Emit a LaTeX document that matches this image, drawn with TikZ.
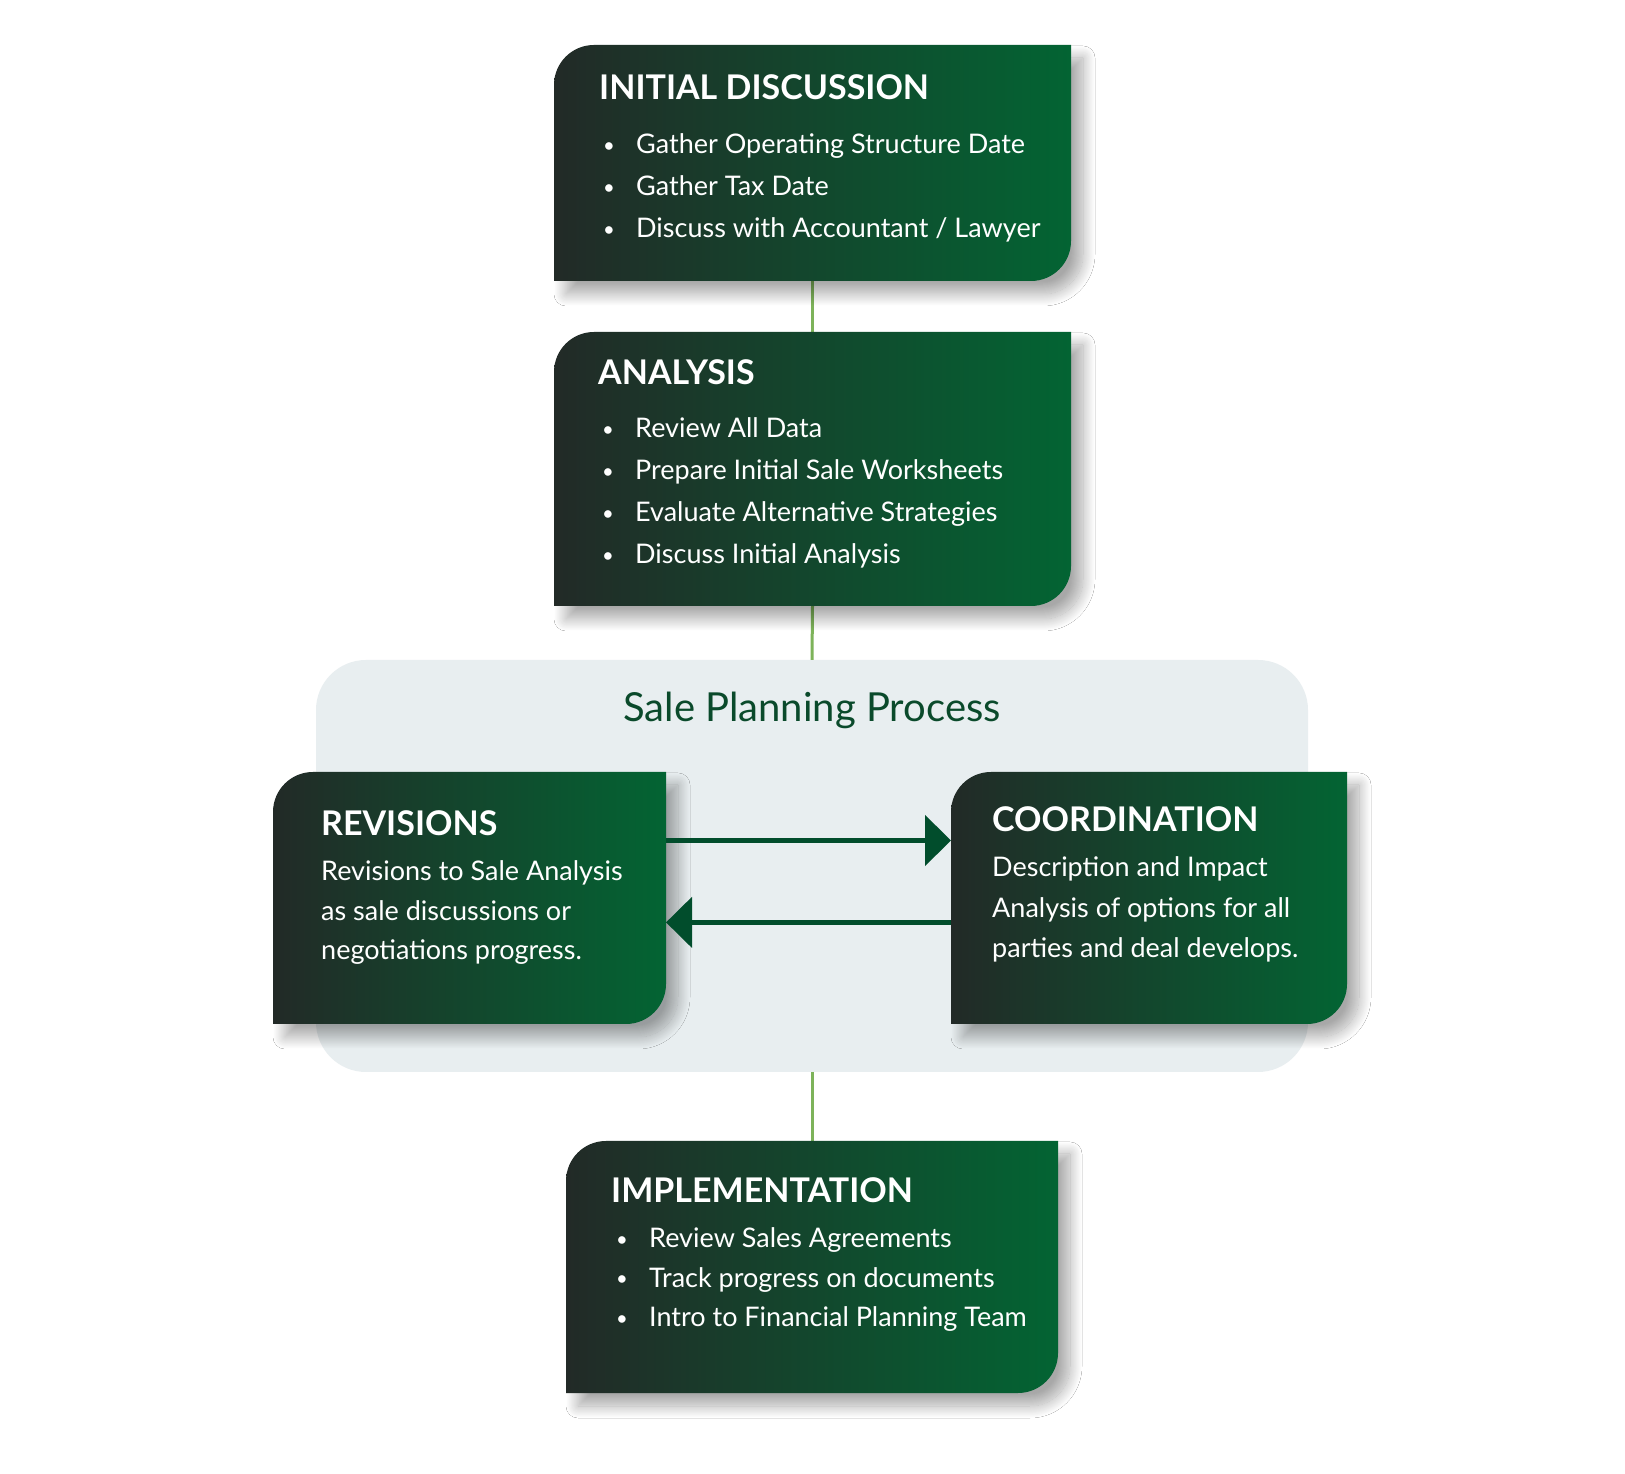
\documentclass[tikz,border=0pt]{standalone}
\usepackage{fontspec}
\setmainfont{Lato}
\usetikzlibrary{arrows.meta,calc,positioning,shadows.blur}

\definecolor{stagedark}{HTML}{222A27}
\definecolor{stagegreen}{HTML}{036433}
\definecolor{panelgray}{HTML}{E8EEF0}
\definecolor{linkgreen}{HTML}{7DB35A}
\definecolor{arrowgreen}{HTML}{014D2C}
\definecolor{titlegreen}{HTML}{0A4A2B}

\tikzset{
  stagebox/.style={inner sep=0pt,outer sep=0pt},
  stagefill/.style={left color=stagedark,right color=stagegreen,
    blur shadow={shadow xshift=12pt,shadow yshift=-13pt,shadow blur radius=12pt,
      shadow blur steps=24,shadow opacity=34}},
  panelbox/.style={fill=panelgray,rounded corners=50pt,inner sep=0pt,
    minimum width=992pt,minimum height=412pt},
  heading/.style={anchor=base west,text=white,inner sep=0pt,
    font=\fontsize{34}{40}\selectfont\bfseries},
  itemtext/.style={anchor=base west,text=white,inner sep=0pt,
    font=\fontsize{27}{40}\selectfont},
  linkline/.style={draw=linkgreen,line width=3pt},
  flowarrow/.style={draw=arrowgreen,line width=5pt,
    -{Triangle[length=26pt,width=50pt]}}
}

% box with rounded top left and bottom right corners
\newcommand{\stageshape}[1]{%
  \path[stagefill] (#1.south west) -- ([yshift=-40pt]#1.north west)
    arc[start angle=180,end angle=90,radius=40pt] -- (#1.north east)
    -- ([yshift=40pt]#1.south east)
    arc[start angle=0,end angle=-90,radius=40pt] -- cycle;}
\newcommand{\bitem}{\makebox[33pt][l]{\raisebox{1.5pt}{\scalebox{0.75}{\textbullet}}}}

\begin{document}
\begin{tikzpicture}[x=1pt,y=1pt]
  \fill[white] (0,0) rectangle (1625,1473);
  \useasboundingbox (0,0) rectangle (1625,1473);

  % stages
  \node[panelbox] (panel) at (812,607) {};
  \node[stagebox,minimum width=517pt,minimum height=236pt] (initial)        at (812.5,1310) {};
  \node[stagebox,minimum width=517pt,minimum height=274pt] (analysis)       at (812.5,1004) {};
  \node[stagebox,minimum width=393pt,minimum height=252pt] (revisions)      at (469.5,575)  {};
  \node[stagebox,minimum width=396pt,minimum height=252pt] (coordination)   at (1149,575)   {};
  \node[stagebox,minimum width=492pt,minimum height=252pt] (implementation) at (812,206)    {};

  \draw[linkline] (initial.south) -- (analysis.north);
  \draw[linkline] (analysis.south) -- (panel.north);
  \draw[linkline] (panel.south) -- (implementation.north);

  \stageshape{initial}
  \stageshape{analysis}
  \stageshape{revisions}
  \stageshape{coordination}
  \stageshape{implementation}

  \node[anchor=base,text=titlegreen,font=\fontsize{40}{48}\selectfont]
    (title) at ([yshift=-62pt]panel.north) {Sale Planning Process};

  % texts
  \node[heading] (initialhead) at ([xshift=45pt,yshift=-55pt]initial.north west) {INITIAL DISCUSSION};
  \foreach \txt [count=\i from 0] in {Gather Operating Structure Date,Gather Tax Date,Discuss with Accountant / Lawyer}
    \node[itemtext] (initial-\i) at ([xshift=49pt,yshift={-(109+42*\i)*1pt}]initial.north west) {\bitem\txt};

  \node[heading] (analysishead) at ([xshift=44pt,yshift=-53pt]analysis.north west) {ANALYSIS};
  \foreach \txt [count=\i from 0] in {Review All Data,Prepare Initial Sale Worksheets,Evaluate Alternative Strategies,Discuss Initial Analysis}
    \node[itemtext] (analysis-\i) at ([xshift=48pt,yshift={-(106+42*\i)*1pt}]analysis.north west) {\bitem\txt};

  \node[heading] (revisionshead) at ([xshift=48pt,yshift=-64pt]revisions.north west) {REVISIONS};
  \foreach \txt [count=\i from 0] in {Revisions to Sale Analysis,as sale discussions or,negotiations progress.}
    \node[itemtext] (revisions-\i) at ([xshift=48pt,yshift={-(109+39.5*\i)*1pt}]revisions.north west) {\txt};

  \node[heading] (coordinationhead) at ([xshift=41pt,yshift=-60pt]coordination.north west) {COORDINATION};
  \foreach \txt [count=\i from 0] in {Description and Impact,Analysis of options for all,parties and deal develops.}
    \node[itemtext] (coordination-\i) at ([xshift=41pt,yshift={-(105+40.5*\i)*1pt}]coordination.north west) {\txt};

  \node[heading] (implementationhead) at ([xshift=45pt,yshift=-62pt]implementation.north west) {IMPLEMENTATION};
  \foreach \txt [count=\i from 0] in {Review Sales Agreements,Track progress on documents,Intro to Financial Planning Team}
    \node[itemtext] (implementation-\i) at ([xshift=50pt,yshift={-(107+39.3*\i)*1pt}]implementation.north west) {\bitem\txt};

  \draw[flowarrow] ([yshift=57.5pt]revisions.east) -- ([yshift=57.5pt]coordination.west);
  \draw[flowarrow] ([yshift=-24.4pt]coordination.west) -- ([yshift=-24.4pt]revisions.east);
\end{tikzpicture}
\end{document}
